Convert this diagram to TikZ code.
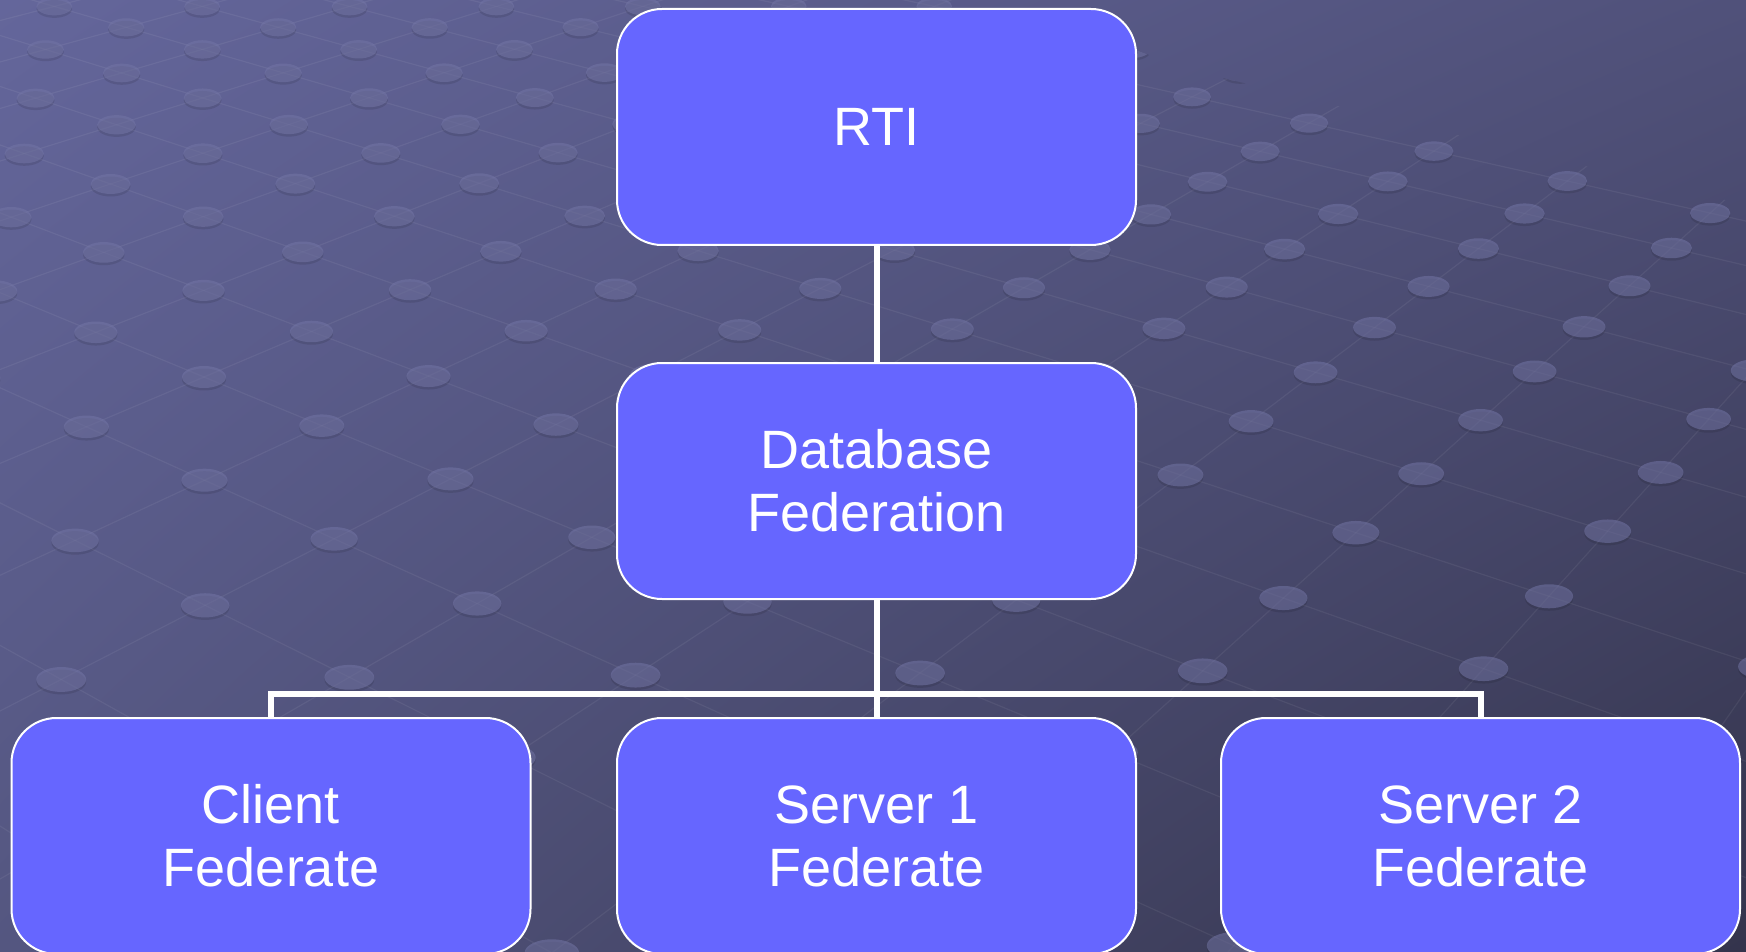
\documentclass[tikz,border=0pt]{standalone}
\usepackage{fontspec}
\setmainfont{Liberation Sans}
\usetikzlibrary{shadings}
\definecolor{boxfill}{RGB}{102,102,255}
\definecolor{bgUL}{RGB}{100,102,155}
\definecolor{bgUR}{RGB}{80,81,122}
\definecolor{bgLL}{RGB}{84,86,128}
\definecolor{bgLR}{RGB}{52,52,76}
\newcommand\gridpt[3]{%
  \pgfmathsetmacro\dd{1+0.0425*(#2)+0.045*(#3)}%
  \pgfmathsetmacro\px{(204+0.0425*(#2)*(-2450)+0.045*(#3)*2700)/\dd}%
  \pgfmathsetmacro\py{(377+0.0425*(#2)*(-720)+0.045*(#3)*(-680))/\dd}%
  \coordinate (#1) at (\px,\py);}
\tikzset{
  fedbox/.style={draw=white, line width=2pt, fill=boxfill, rounded corners=45pt,
    minimum width=519pt, minimum height=236pt, text=white, align=center,
    font=\fontsize{54}{63}\selectfont},
  link/.style={draw=white, line width=6pt, line join=miter},
  gridline/.style={draw=white, opacity=0.06, line width=1.2pt},
  griddot/.style={fill={rgb,255:red,115;green,117;blue,165}, opacity=0.55}
}
\begin{document}
\begin{tikzpicture}[x=1pt,y=-1pt]
\useasboundingbox (0,0) rectangle (1746,952);
\shade[upper left=bgUL, upper right=bgUR, lower left=bgLL, lower right=bgLR] (0,0) rectangle (1746,952);
\begin{scope}
\clip (0,0) -- (1000,0) -- (1190,70) -- (1746,205) -- (1746,952) -- (0,952) -- cycle;
% perspective grid lines
\foreach \u in {-10,...,24}{
  \pgfmathtruncatemacro\vlo{max(-10,ceil((-0.72-0.0425*\u)/0.045))}
  \gridpt{ga}{\u}{\vlo}
  \gridpt{gb}{\u}{14}
  \draw[gridline] (ga) -- (gb);
}
\foreach \v in {-10,...,14}{
  \pgfmathtruncatemacro\ulo{max(-10,ceil((-0.72-0.045*\v)/0.0425))}
  \gridpt{ga}{\ulo}{\v}
  \gridpt{gb}{24}{\v}
  \draw[gridline] (ga) -- (gb);
}
% dots
\foreach \u in {-10,...,24}{
  \foreach \v in {-10,...,14}{
    \pgfmathsetmacro\dchk{1+0.0425*\u+0.045*\v}
    \pgfmathtruncatemacro\ok{\dchk>0.3 ? 1 : 0}
    \ifnum\ok=1
      \gridpt{gd}{\u}{\v}
      \pgfmathsetmacro\rr{22/sqrt(\dd)}
      \fill[black, opacity=0.10] ([yshift=-2.5pt]gd) ellipse ({\rr pt} and {0.5*\rr pt});
      \fill[griddot] (gd) ellipse ({\rr pt} and {0.5*\rr pt});
    \fi
  }
}
\end{scope}
% nodes
\node[fedbox] (rti) at (876.5,127) {RTI};
\node[fedbox] (db) at (876.5,481) {Database\\Federation};
\node[fedbox] (client) at (271,836) {Client\\Federate};
\node[fedbox] (srv1) at (876.5,836) {Server 1\\Federate};
\node[fedbox] (srv2) at (1480.5,836) {Server 2\\Federate};
% connectors
\coordinate (bus) at (876.5,694);
\draw[link] (rti.south) -- (db.north);
\draw[link] (db.south) -- (bus);
\draw[link] (client.north) |- (bus) -| (srv2.north);
\draw[link] (bus) -- (srv1.north);
\end{tikzpicture}
\end{document}
